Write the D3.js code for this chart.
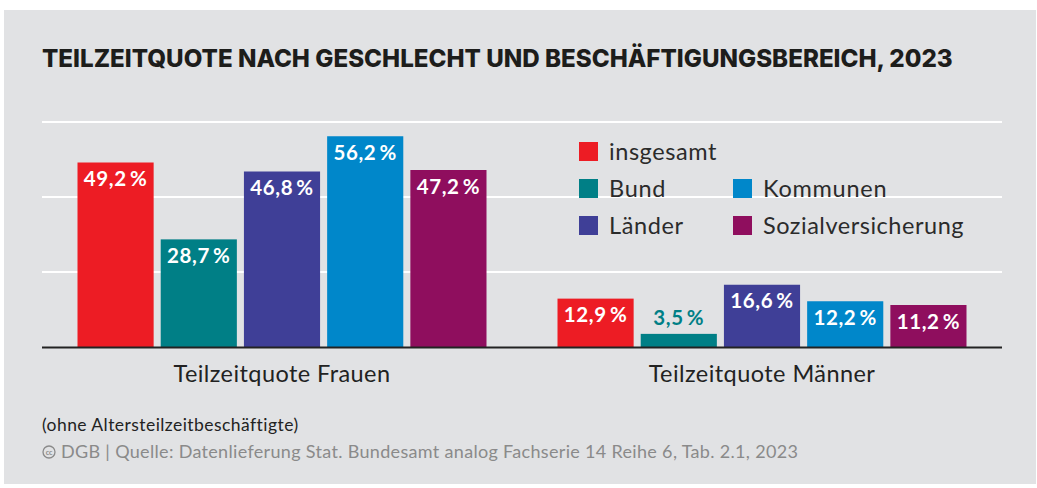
<!DOCTYPE html>
<html><head><meta charset="utf-8">
<script src="https://cdn.jsdelivr.net/npm/d3@7"></script>
<style>body{margin:0;background:#fff}svg{display:block}</style>
</head><body>
<svg id="c" width="1037" height="488"></svg>
<script>
const groups = ["Teilzeitquote Frauen", "Teilzeitquote Männer"];
const series = ["insgesamt", "Bund", "Länder", "Kommunen", "Sozialversicherung"];
const colors = ["#ed1c24", "#007f86", "#3f3f97", "#0087ca", "#8f0e5e"];
const frauen = [49.2, 28.7, 46.8, 56.2, 47.2];
const maenner = [12.9, 3.5, 16.6, 12.2, 11.2];
const yTicks = [0, 20, 40, 60];
const title = "TEILZEITQUOTE NACH GESCHLECHT UND BESCHÄFTIGUNGSBEREICH, 2023";
const note = "(ohne Altersteilzeitbeschäftigte)";
const source = "DGB | Quelle: Datenlieferung Stat. Bundesamt analog Fachserie 14 Reihe 6, Tab. 2.1, 2023";

const values = [frauen, maenner];
const svg = d3.select("#c");
const body = "Lato, 'Source Sans Pro', sans-serif";

// spread letters so a text reaches a given width (reference font is a bit wider)
function fit(sel, scale){
  const n = sel.text().length;
  const w = sel.node().getComputedTextLength();
  sel.attr("letter-spacing", (w*scale - w)/n);
  return sel;
}

svg.append("rect").attr("x",4).attr("y",10).attr("width",1032).attr("height",474).attr("fill","#e1e2e4");

// title
const t = svg.append("text").attr("x",42).attr("y",67).text(title)
  .attr("font-family","Inter, sans-serif").attr("font-weight",800).attr("font-size",24).attr("fill","#1d1d1b");
const tw = t.node().getComputedTextLength();
t.attr("font-size", 24*911/tw);

const x0 = d3.scaleBand().domain(groups).range([42,1002]);
const x1 = d3.scaleBand().domain(series).range([35.5,444.5]).paddingInner(0.085);
const y = d3.scaleLinear().domain([0,80]).range([347,47]);

// gridlines
svg.selectAll("line.grid").data(yTicks.filter(d=>d>0)).join("line")
  .attr("x1",42).attr("x2",1002).attr("y1",d=>y(d)).attr("y2",d=>y(d))
  .attr("stroke","#fff").attr("stroke-width",2);

const fmt = v => d3.format(".1f")(v).replace(".",",") + "\u2009%";

groups.forEach((g,gi)=>{
  const gg = svg.append("g").attr("transform",`translate(${x0(g)},0)`);
  series.forEach((s,si)=>{
    const v = values[gi][si];
    gg.append("rect").attr("x",x1(s)).attr("y",y(v)).attr("width",x1.bandwidth()).attr("height",y(0)-y(v)).attr("fill",colors[si]);
    const inside = (y(0)-y(v)) > 30;
    const lb = gg.append("text").attr("x",x1(s)+x1.bandwidth()/2)
      .attr("y", inside ? y(v)+23.5 : y(v)-9)
      .attr("text-anchor","middle").attr("font-family",body).attr("font-weight",700).attr("font-size",20.5)
      .attr("fill", inside ? "#fff" : colors[si]).text(fmt(v));
    fit(lb, 1.06);
  });
  const al = svg.append("text").attr("x",x0(g)+x0.bandwidth()/2).attr("y",382).attr("text-anchor","middle")
    .attr("font-family",body).attr("font-size",23.5).attr("fill","#222").text(g);
  fit(al, 1.04);
});

// baseline
svg.append("line").attr("x1",42).attr("x2",1002).attr("y1",y(0)+0.5).attr("y2",y(0)+0.5).attr("stroke","#222").attr("stroke-width",2);

// legend
const legendPos = [[579,142],[579,179],[579,216],[733,179],[733,216]];
series.forEach((s,i)=>{
  const [lx,ly] = legendPos[i];
  svg.append("rect").attr("x",lx).attr("y",ly).attr("width",19).attr("height",19).attr("fill",colors[i]);
  const lt = svg.append("text").attr("x",lx+30).attr("y",ly+18).attr("font-family",body).attr("font-size",23.5).attr("fill","#2b2b2b").text(s);
  fit(lt, 1.05);
});

// notes
fit(svg.append("text").attr("x",42).attr("y",431).attr("font-family",body).attr("font-size",17.5).attr("fill","#222").text(note), 1.06);
svg.append("circle").attr("cx",49).attr("cy",452).attr("r",6).attr("fill","none").attr("stroke","#8a8a8a").attr("stroke-width",1.3);
svg.append("text").attr("x",49).attr("y",454.5).attr("text-anchor","middle").attr("font-family",body).attr("font-weight",700).attr("font-size",7).attr("fill","#8a8a8a").text("cc");
fit(svg.append("text").attr("x",61).attr("y",458).attr("font-family",body).attr("font-size",18).attr("fill","#8a8a8a").text(source), 1.04);
</script>
</body></html>
